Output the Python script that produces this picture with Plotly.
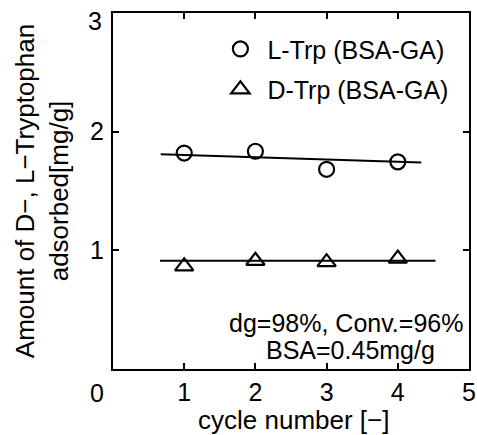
import plotly.graph_objects as go

# Data
cycles = [1, 2, 3, 4]
l_trp = [1.82, 1.835, 1.683, 1.746]
d_trp = [0.865, 0.912, 0.90, 0.93]

# Fitted trend lines (end points)
fit_l_x = [0.67, 4.33]
fit_l_y = [1.81, 1.74]
fit_d_x = [0.66, 4.53]
fit_d_y = [0.912, 0.912]

x_ticks = [1, 2, 3, 4, 5]
y_ticks = [1, 2, 3]
y_ticklabels = ["1", "2", ""]   # "3" is drawn just under the top frame, as in the original

FONT = "Liberation Sans, Arial, sans-serif"

fig = go.Figure()
fig.add_trace(go.Scatter(x=fit_l_x, y=fit_l_y, mode="lines",
                         line=dict(color="black", width=2), showlegend=False))
fig.add_trace(go.Scatter(x=fit_d_x, y=fit_d_y, mode="lines",
                         line=dict(color="black", width=2), showlegend=False))
fig.add_trace(go.Scatter(x=cycles, y=l_trp, mode="markers", name="L-Trp (BSA-GA)",
                         legendgroup="l",
                         marker=dict(symbol="circle-open", size=15, color="black",
                                     line=dict(width=2.2, color="black"))))
fig.add_trace(go.Scatter(x=cycles, y=d_trp, mode="markers", name="D-Trp (BSA-GA)",
                         legendgroup="d",
                         marker=dict(symbol="triangle-up-open", size=16, color="black",
                                     line=dict(width=2.2, color="black"))))

axis_common = dict(showline=True, linecolor="black", linewidth=2, mirror="ticks",
                   ticks="inside", ticklen=6, tickwidth=1.5, tickcolor="black",
                   showgrid=False, zeroline=False, automargin=False,
                   ticklabeloverflow="allow",
                   tickfont=dict(family=FONT, size=25, color="black"))

fig.update_xaxes(range=[0, 5], tickvals=x_ticks, ticktext=[str(v) for v in x_ticks],
                 ticklabelstandoff=0, **axis_common)
fig.update_yaxes(range=[0, 3], tickvals=y_ticks, ticktext=y_ticklabels,
                 ticklabelstandoff=2,
                 title=dict(text="Amount of D−, L−Tryptophan<br>adsorbed[mg/g]", standoff=14,
                            font=dict(family=FONT, size=26, color="black")),
                 **axis_common)

# x-axis title, placed tight under the tick labels as in the original
fig.add_annotation(text="cycle number [−]", xref="paper", yref="paper", x=0.5, y=0,
                   xanchor="center", yanchor="middle", yshift=-51, xshift=2,
                   showarrow=False, font=dict(family=FONT, size=26, color="black"))
fig.add_annotation(text="0", xref="paper", yref="paper", x=0, y=0,
                   xanchor="center", yanchor="middle", xshift=-16, yshift=-24,
                   showarrow=False, font=dict(family=FONT, size=25, color="black"))
fig.add_annotation(text="3", xref="paper", yref="paper", x=0, y=1,
                   xanchor="center", yanchor="middle", xshift=-18, yshift=-8,
                   showarrow=False, font=dict(family=FONT, size=25, color="black"))
fig.add_annotation(text="dg=98%, Conv.=96%", xref="paper", yref="paper",
                   x=0.654, y=0.129, xanchor="center", yanchor="middle",
                   showarrow=False, font=dict(family=FONT, size=25, color="black"))
fig.add_annotation(text="BSA=0.45mg/g", xref="paper", yref="paper",
                   x=0.666, y=0.053, xanchor="center", yanchor="middle",
                   showarrow=False, font=dict(family=FONT, size=25, color="black"))

fig.update_layout(
    width=477, height=435,
    margin=dict(l=113, r=8, t=13, b=66),
    paper_bgcolor="white", plot_bgcolor="white",
    font=dict(family=FONT, color="black"),
    legend=dict(x=0.282, y=0.963, xanchor="left", yanchor="top",
                bgcolor="rgba(0,0,0,0)", tracegroupgap=5, itemwidth=44,
                font=dict(family=FONT, size=25, color="black")),
)

# remove the browser's default 8px body margin so the figure sits at the page corner
fig.write_html("out.html", config={"displayModeBar": False},
               post_script="document.body.style.margin='0px';")
